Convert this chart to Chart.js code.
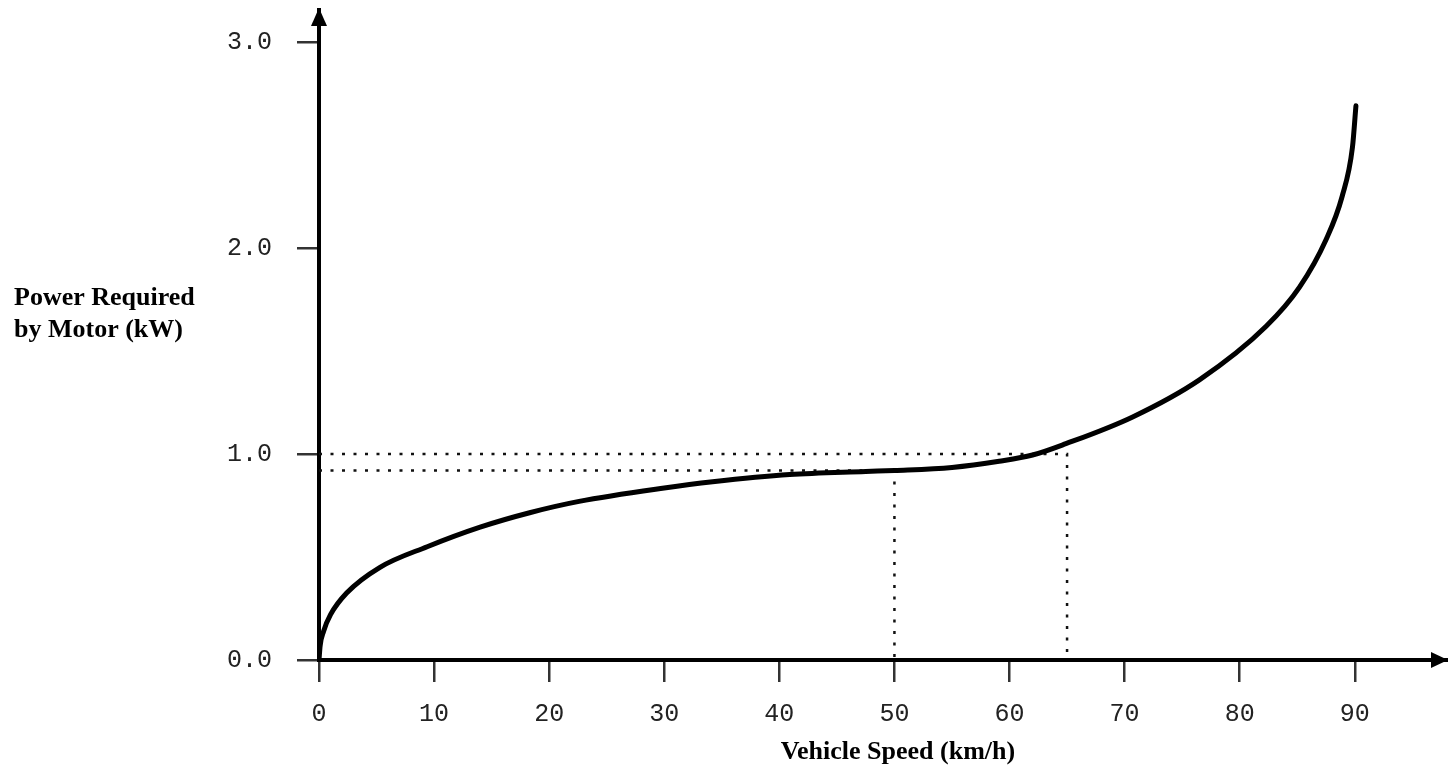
<!DOCTYPE html>
<html>
<head>
<meta charset="utf-8">
<script src="https://cdn.jsdelivr.net/npm/chart.js@4"></script>
<style>
  body { margin: 0; background: #fff; }
  #wrap { width: 1448px; height: 768px; }
</style>
</head>
<body>
<div id="wrap"><canvas id="powerChart" width="1448" height="768"></canvas></div>
<script>
// values
const speedKmh = [0, 0.1, 0.4, 1, 2.4, 5.3, 9.4, 14, 18.3, 22.6, 30, 34.2, 40.9, 47.5, 50, 55, 59.1, 62, 64.9, 70.7, 76.5, 82.3, 85.2, 87.5, 88.9, 89.8, 90.1];
const powerKw = [0, 0.07, 0.14, 0.22, 0.325, 0.45, 0.55, 0.645, 0.715, 0.77, 0.835, 0.865, 0.90, 0.915, 0.92, 0.935, 0.965, 0.995, 1.05, 1.18, 1.36, 1.62, 1.81, 2.04, 2.25, 2.49, 2.69];

const markerSpeeds = [50, 65];
const markerPowers = [0.92, 1.0];

const xTickValues = [0, 10, 20, 30, 40, 50, 60, 70, 80, 90];
const yTickValues = [0, 1, 2, 3];

const yTitleLines = ["Power Required", "by Motor (kW)"];
const xTitle = "Vehicle Speed (km/h)";

const curve = speedKmh.map((s, i) => ({ x: s, y: powerKw[i] }));

// dotted guide lines: from axis to curve, then down to the x axis
const guideSets = [];
markerSpeeds.forEach((s, i) => {
    const p = markerPowers[i];
    guideSets.push({
        data: [{ x: 0, y: p }, { x: s, y: p }, { x: s, y: 0 }],
        showLine: true,
        borderColor: "#111",
        borderWidth: 2.5,
        borderDash: [3, 8.5],
        pointRadius: 0,
        tension: 0
    });
});

const axisExtras = {
    id: "axisExtras",
    afterDraw(chart) {
        const ctx = chart.ctx;
        const area = chart.chartArea;
        ctx.save();
        // hide the bit of axis line poking past the arrow tip
        ctx.fillStyle = "#fff";
        ctx.fillRect(area.left - 4, 0, 8, area.top);
        ctx.fillStyle = "#000";
        // arrow on x axis
        ctx.beginPath();
        ctx.moveTo(area.right, area.bottom);
        ctx.lineTo(area.right - 17, area.bottom - 8);
        ctx.lineTo(area.right - 17, area.bottom + 8);
        ctx.closePath();
        ctx.fill();
        // arrow on y axis
        ctx.beginPath();
        ctx.moveTo(area.left, area.top);
        ctx.lineTo(area.left - 8, area.top + 18);
        ctx.lineTo(area.left + 8, area.top + 18);
        ctx.closePath();
        ctx.fill();
        // y title, horizontal
        ctx.font = "bold 26px 'Liberation Serif'";
        ctx.textAlign = "left";
        ctx.textBaseline = "middle";
        ctx.fillText(yTitleLines[0], 14, 298);
        ctx.fillText(yTitleLines[1], 14, 330);
        // x title
        ctx.textAlign = "center";
        ctx.fillText(xTitle, chart.scales.x.getPixelForValue(50.3), 752);
        ctx.restore();
    }
};

new Chart(document.getElementById("powerChart"), {
    type: "scatter",
    data: {
        datasets: [{
            data: curve,
            showLine: true,
            borderColor: "#000",
            borderWidth: 5,
            pointRadius: 0,
            cubicInterpolationMode: "monotone",
            borderCapStyle: "round"
        }].concat(guideSets)
    },
    options: {
        responsive: false,
        animation: false,
        layout: { padding: { top: 8, right: 0, left: 0, bottom: 0 } },
        plugins: {
            legend: { display: false },
            tooltip: { enabled: false }
        },
        scales: {
            x: {
                type: "linear",
                min: 0,
                max: 98.1,
                afterBuildTicks: (scale) => { scale.ticks = xTickValues.map(v => ({ value: v })); },
                afterFit: (scale) => { scale.height = 108; scale.paddingLeft = 0; scale.paddingRight = 0; },
                grid: { drawOnChartArea: false, drawTicks: true, tickLength: 22, color: "#333", lineWidth: 2.5 },
                border: { display: true, color: "#000", width: 4 },
                ticks: {
                    padding: 17,
                    color: "#222",
                    font: { family: "'Liberation Mono'", size: 25 },
                    maxRotation: 0
                }
            },
            y: {
                type: "linear",
                min: 0,
                max: 3.165,
                afterBuildTicks: (scale) => { scale.ticks = yTickValues.map(v => ({ value: v })); },
                afterFit: (scale) => { scale.width = 319; scale.paddingTop = 0; scale.paddingBottom = 0; },
                grid: { drawOnChartArea: false, drawTicks: true, tickLength: 22, color: "#333", lineWidth: 2.5 },
                border: { display: true, color: "#000", width: 4 },
                ticks: {
                    padding: 25,
                    color: "#222",
                    font: { family: "'Liberation Mono'", size: 25 },
                    callback: (v) => Number(v).toFixed(1)
                }
            }
        }
    },
    plugins: [axisExtras]
});
</script>
</body>
</html>
